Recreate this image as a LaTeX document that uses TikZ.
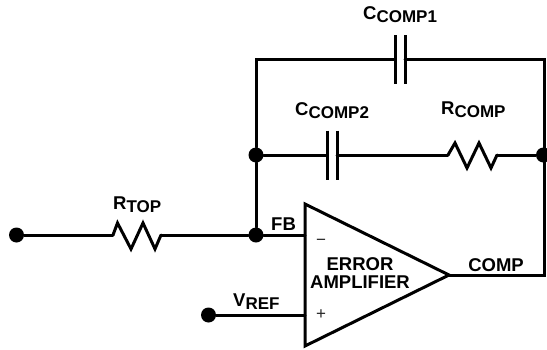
\documentclass[tikz,border=0pt]{standalone}
\usepackage{fontspec}
\setmainfont{Liberation Sans}[BoldFont={Liberation Sans Bold}]
\usetikzlibrary{calc}
\tikzset{
  wire/.style={line width=3pt,line cap=round,line join=miter},
  plate/.style={line width=3pt,line cap=butt},
  junction/.style={circle,fill=black,inner sep=0pt,minimum size=15pt},
  lab/.style={inner sep=0pt,font=\fontsize{18.5}{19}\selectfont\bfseries,text=black},
  sign/.style={inner sep=0pt,font=\fontsize{17}{17}\selectfont,text=black!85},
}
\newcommand{\lsub}[2]{#1{\fontsize{17}{17}\selectfont\raisebox{-3.6pt}{#2}}}
\begin{document}
\begin{tikzpicture}[x=1pt,y=-1pt]
\useasboundingbox (0,0) rectangle (547,349);
% junctions and terminals
\node[junction] (in) at (16.5,235) {};
\node[junction] (fb) at (256,235) {};
\node[junction] (jl) at (256,155) {};
\node[junction] (jr) at (543.5,155) {};
\node[junction] (vref) at (208.5,315) {};
% corners
\coordinate (tl) at (256,59.5);
\coordinate (tr) at (544,59.5);
\coordinate (cr) at (544,275);
% amplifier
\coordinate (a1) at (305,204);
\coordinate (a2) at (305,346);
\coordinate (a3) at (449,275);
\coordinate (minus) at (305,235);
\coordinate (plus) at (305,315);
\draw[wire,line cap=butt] (a1) -- (a3) -- (a2) -- cycle;
% capacitors
\coordinate (c1a) at (395,59.5); \coordinate (c1b) at (405,59.5);
\coordinate (c2a) at (327,155); \coordinate (c2b) at (337,155);
\draw[plate] ($(c1a)+(0,-24.5)$) -- ($(c1a)+(0,24.5)$);
\draw[plate] ($(c1b)+(0,-24.5)$) -- ($(c1b)+(0,24.5)$);
\draw[plate] ($(c2a)+(0,-24.5)$) -- ($(c2a)+(0,24.5)$);
\draw[plate] ($(c2b)+(0,-24.5)$) -- ($(c2b)+(0,24.5)$);
% resistors
\coordinate (r1a) at (113,235); \coordinate (r1b) at (161,235);
\coordinate (r2a) at (448,155); \coordinate (r2b) at (497,155);
\draw[wire] (r1a) -- (117.5,223) -- (131,249) -- (143,223) -- (155,249) -- (r1b);
\draw[wire] (r2a) -- (455,143) -- (467,168) -- (479,143) -- (491,168) -- (r2b);
% wires
\draw[wire] (in) -- (r1a);
\draw[wire] (r1b) -- (fb) -- (minus);
\draw[wire] (fb) -- (jl) -- (tl) -- (c1a);
\draw[wire] (c1b) -- (tr) -- (cr) -- (a3);
\draw[wire] (jl) -- (c2a);
\draw[wire] (c2b) -- (r2a);
\draw[wire] (r2b) -- (jr);
\draw[wire] (vref) -- (plus);
% labels
\node[lab,anchor=base west] (lc1) at (363,19) {\lsub{C}{COMP1}};
\node[lab,anchor=base west] (lc2) at (295,115) {\lsub{C}{COMP2}};
\node[lab,anchor=base west] (lr) at (441,114) {\lsub{R}{COMP}};
\node[lab,anchor=base west] (lt) at (113,209) {\lsub{R}{TOP}};
\node[lab,anchor=base west] (lv) at (233,306) {\lsub{V}{REF}};
\node[lab,anchor=base west] (lfb) at (271,230) {FB};
\node[lab,anchor=base] (lerr) at (360,270) {ERROR};
\node[lab,anchor=base] (lamp) at (360,288) {AMPLIFIER};
\node[lab,anchor=base] (lcomp) at (496,271) {COMP};
\node[sign] (sm) at (321,242) {−};
\node[sign] (sp) at (321,315) {+};
\end{tikzpicture}
\end{document}
